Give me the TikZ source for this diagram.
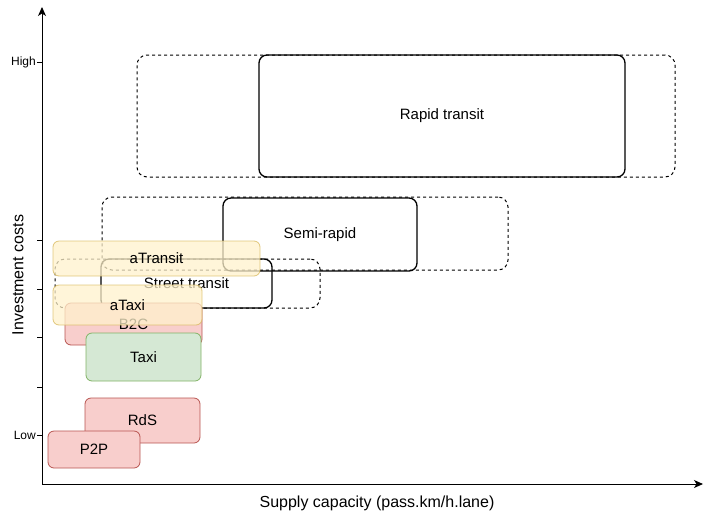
\documentclass[tikz,border=0pt]{standalone}
\usepackage{fontspec}
\setmainfont{Liberation Sans}
\usetikzlibrary{arrows.meta}
\definecolor{redfill}{HTML}{F8CECC}
\definecolor{redline}{HTML}{B85450}
\definecolor{greenfill}{HTML}{D5E8D4}
\definecolor{greenline}{HTML}{82B366}
\definecolor{yellowfill}{HTML}{FFF2CC}
\definecolor{yellowline}{HTML}{D6B656}
\begin{document}
\begin{tikzpicture}[x=1pt,y=-1pt]
        \tikzstyle{every node}+=[inner sep=0pt,font=\fontsize{15}{18}\selectfont]
        \tikzstyle{spanbox}=[draw,line width=1pt,dash pattern=on 3pt off 3pt,rounded corners=10pt]
        \tikzstyle{modebox}=[draw,line width=1.3pt,rounded corners=8pt]
        \tikzstyle{redbox}=[draw=redline,fill=redfill,line width=0.8pt,rounded corners=6pt]
        \tikzstyle{greenbox}=[draw=greenline,fill=greenfill,line width=0.8pt,rounded corners=6pt]
        \tikzstyle{yellowbox}=[draw=yellowline,fill=yellowfill,line width=0.8pt,rounded corners=6pt,fill opacity=0.75,draw opacity=0.75,text opacity=1]
        \useasboundingbox (0,0) rectangle (704,515);
        % axes
        \coordinate (origin) at (42,484);
        \coordinate (ytop) at (42,7);
        \coordinate (xend) at (703,484);
        \draw [line width=1pt,-{Stealth[length=9pt,width=8pt,inset=2.5pt]}] (origin) -- (ytop);
        \draw [line width=1pt,-{Stealth[length=9pt,width=8pt,inset=2.5pt]}] (origin) -- (xend);
        \foreach \y in {62,240,289,337,387,435}
          \draw [line width=0.8pt] (37,\y) -- (42,\y);
        \node [anchor=east,font=\fontsize{12}{14}\selectfont] (high) at (36,62) {High};
        \node [anchor=east,font=\fontsize{12}{14}\selectfont] (low) at (36,435) {Low};
        \node [rotate=90,font=\fontsize{16}{19}\selectfont] (ylabel) at (18,275) {Investment costs};
        \node [font=\fontsize{16}{19}\selectfont] (xlabel) at (377,503) {Supply capacity (pass.km/h.lane)};
        % ranges and modes
        \node [spanbox,minimum width=538,minimum height=122] (rapidspan) at (406,116) {};
        \node [modebox,minimum width=366,minimum height=122] (rapid) at (442,116) {Rapid transit};
        \node [spanbox,minimum width=406,minimum height=73] (semispan) at (305,233.5) {};
        \node [modebox,minimum width=194,minimum height=73] (semi) at (320,234.5) {Semi-rapid};
        \node [spanbox,minimum width=265,minimum height=49] (streetspan) at (187.5,283.5) {};
        \node [modebox,minimum width=171,minimum height=49] (street) at (186.5,283.5) {Street transit};
        % services
        \node [redbox,minimum width=115,minimum height=45] (rds) at (142.5,420.5) {RdS};
        \node [redbox,minimum width=92,minimum height=37] (p2p) at (94,449.5) {P2P};
        \node [redbox,minimum width=137,minimum height=42] (b2c) at (133.5,324) {B2C};
        \node [greenbox,minimum width=115,minimum height=48] (taxi) at (143.5,357) {Taxi};
        \node [yellowbox,minimum width=149,minimum height=40] (ataxi) at (127.5,305) {aTaxi};
        \node [yellowbox,minimum width=207,minimum height=35] (atransit) at (156.5,258.5) {aTransit};
\end{tikzpicture}
\end{document}
